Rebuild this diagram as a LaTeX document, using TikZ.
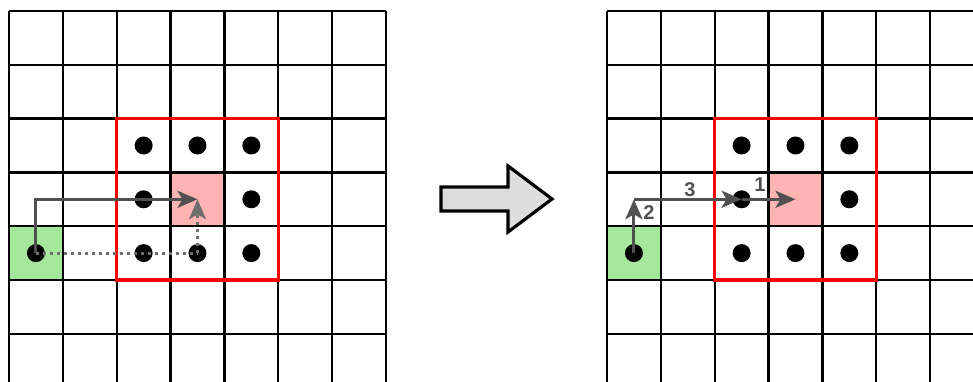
\documentclass[tikz,border=0pt]{standalone}
\usepackage{fontspec}
\setmainfont{Liberation Sans}
\usetikzlibrary{arrows.meta}
\definecolor{gridgreen}{RGB}{166,232,155}
\definecolor{gridpink}{RGB}{255,179,179}
\definecolor{arrgray}{RGB}{80,80,80}
\definecolor{dotgray}{RGB}{110,110,110}
\definecolor{biggray}{RGB}{221,221,221}
\tikzset{
  gridline/.style={black, line width=2.2pt},
  redbox/.style={red, line width=3.2pt},
  dotnode/.style={circle, fill=black, minimum size=18pt, inner sep=0pt},
  arr/.style={arrgray, line width=3pt, -{Stealth[length=20pt, width=17pt, inset=5pt]}},
  dotline/.style={dotgray, line width=3pt, dash pattern=on 3pt off 4pt},
  dotarr/.style={dotgray, line width=3pt, dash pattern=on 3pt off 4pt, -{Stealth[length=20pt, width=17pt, inset=5pt]}},
  numlabel/.style={text=arrgray, font=\bfseries\fontsize{20}{20}\selectfont, inner sep=0pt},
  bigarrow/.style={fill=biggray, draw=black, line width=3.2pt, line join=miter},
}
\begin{document}
\begin{tikzpicture}[x=1pt, y=-1pt]
\useasboundingbox (0,0) rectangle (973,382);
\def\cw{53.85}
\def\rh{53.8}
\def\ytop{11}
% ---------- left grid ----------
\def\xL{9}
\fill[gridgreen] (\xL+0*\cw, \ytop+4*\rh) rectangle (\xL+1*\cw, \ytop+5*\rh);
\fill[gridpink] (\xL+3*\cw, \ytop+3*\rh) rectangle (\xL+4*\cw, \ytop+4*\rh);
\foreach \i in {0,...,7} \draw[gridline] (\xL+\i*\cw, \ytop) -- (\xL+\i*\cw, 382);
\foreach \j in {0,...,6} \draw[gridline] (\xL, \ytop+\j*\rh) -- (\xL+7*\cw, \ytop+\j*\rh);
\draw[redbox] (\xL+2*\cw, \ytop+2*\rh) rectangle (\xL+5*\cw, \ytop+5*\rh);
\foreach \c/\r in {2/2,3/2,4/2,2/3,4/3,2/4,3/4,4/4,0/4}
  \node[dotnode] (L\c\r) at (\xL+\c*\cw+0.5*\cw, \ytop+\r*\rh+0.5*\rh) {};
\coordinate (Lpink) at (\xL+3.5*\cw, \ytop+3.5*\rh);
\draw[arr] (L04.center) |- (Lpink);
\draw[dotline] (L04.center) -- (L34.center);
\draw[dotarr] (L34.center) -- (Lpink);
% ---------- big arrow ----------
\draw[bigarrow] (441,187) -- (508,187) -- (508,166) -- (552,199) -- (508,232) -- (508,211) -- (441,211) -- cycle;
% ---------- right grid ----------
\def\xR{607}
\fill[gridgreen] (\xR+0*\cw, \ytop+4*\rh) rectangle (\xR+1*\cw, \ytop+5*\rh);
\fill[gridpink] (\xR+3*\cw, \ytop+3*\rh) rectangle (\xR+4*\cw, \ytop+4*\rh);
\foreach \i in {0,...,6} \draw[gridline] (\xR+\i*\cw, \ytop) -- (\xR+\i*\cw, 382);
\foreach \j in {0,...,6} \draw[gridline] (\xR, \ytop+\j*\rh) -- (973, \ytop+\j*\rh);
\draw[redbox] (\xR+2*\cw, \ytop+2*\rh) rectangle (\xR+5*\cw, \ytop+5*\rh);
\foreach \c/\r in {2/2,3/2,4/2,2/3,4/3,2/4,3/4,4/4,0/4}
  \node[dotnode] (R\c\r) at (\xR+\c*\cw+0.5*\cw, \ytop+\r*\rh+0.5*\rh) {};
\coordinate (Rpink) at (\xR+3.5*\cw, \ytop+3.5*\rh);
\coordinate (Rcorner) at (\xR+0.5*\cw, \ytop+3.5*\rh);
\draw[arr] (R04.center) -- (Rcorner);
\draw[arr] (Rcorner) -- (R23.center);
\draw[arr] (R23.center) -- (Rpink);
\node[numlabel] (n2) at (649,213) {2};
\node[numlabel] (n3) at (690,190) {3};
\node[numlabel] (n1) at (760,185) {1};
\end{tikzpicture}
\end{document}
